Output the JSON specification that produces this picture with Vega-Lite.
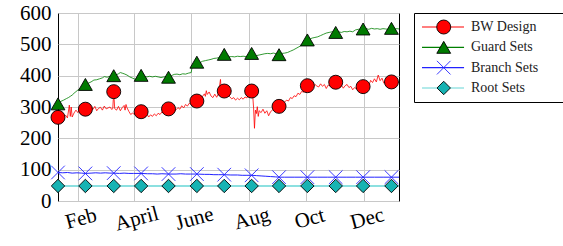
{
"$schema": "https://vega.github.io/schema/vega-lite/v6.json",
"background": "white",
"padding": {"left": 19, "top": 1, "right": 0, "bottom": 0},
"config": {"view": {"stroke": "black", "strokeWidth": 1}, "font": "Liberation Serif", "concat": {"spacing": 10}},
"datasets": {
"bwline": [{"day":0,"value":267},{"day":2,"value":262},{"day":4,"value":270},{"day":6,"value":266},{"day":8,"value":274},{"day":10,"value":265},{"day":12,"value":306},{"day":13,"value":270},{"day":14,"value":300},{"day":15,"value":268},{"day":17,"value":281},{"day":19,"value":290},{"day":21,"value":282},{"day":23,"value":296},{"day":25,"value":288},{"day":27,"value":295},{"day":29,"value":293},{"day":31,"value":300},{"day":33,"value":290},{"day":35,"value":298},{"day":37,"value":292},{"day":39,"value":302},{"day":41,"value":288},{"day":43,"value":296},{"day":45,"value":299},{"day":47,"value":290},{"day":49,"value":303},{"day":51,"value":294},{"day":53,"value":297},{"day":55,"value":300},{"day":57,"value":292},{"day":58,"value":296},{"day":59,"value":349},{"day":60,"value":295},{"day":62,"value":290},{"day":64,"value":302},{"day":66,"value":288},{"day":68,"value":298},{"day":70,"value":305},{"day":71,"value":290},{"day":72,"value":308},{"day":73,"value":298},{"day":75,"value":286},{"day":77,"value":276},{"day":79,"value":281},{"day":81,"value":275},{"day":83,"value":284},{"day":85,"value":280},{"day":88,"value":285},{"day":90,"value":280},{"day":92,"value":271},{"day":94,"value":278},{"day":96,"value":268},{"day":98,"value":275},{"day":100,"value":270},{"day":102,"value":278},{"day":104,"value":272},{"day":106,"value":280},{"day":108,"value":276},{"day":110,"value":284},{"day":112,"value":280},{"day":114,"value":289},{"day":117,"value":294},{"day":119,"value":288},{"day":121,"value":292},{"day":123,"value":285},{"day":125,"value":291},{"day":127,"value":298},{"day":129,"value":293},{"day":131,"value":304},{"day":133,"value":297},{"day":135,"value":308},{"day":137,"value":303},{"day":139,"value":312},{"day":141,"value":309},{"day":143,"value":316},{"day":145,"value":313},{"day":147,"value":319},{"day":149,"value":326},{"day":151,"value":321},{"day":153,"value":334},{"day":155,"value":342},{"day":156,"value":334},{"day":157,"value":352},{"day":158,"value":340},{"day":160,"value":348},{"day":162,"value":335},{"day":164,"value":330},{"day":166,"value":341},{"day":168,"value":331},{"day":170,"value":344},{"day":172,"value":388},{"day":173,"value":345},{"day":174,"value":352},{"day":176,"value":351},{"day":178,"value":347},{"day":180,"value":338},{"day":182,"value":332},{"day":184,"value":326},{"day":186,"value":330},{"day":188,"value":322},{"day":190,"value":328},{"day":192,"value":323},{"day":194,"value":330},{"day":196,"value":325},{"day":198,"value":332},{"day":200,"value":329},{"day":202,"value":336},{"day":204,"value":340},{"day":205,"value":351},{"day":206,"value":342},{"day":207,"value":300},{"day":208,"value":232},{"day":209,"value":290},{"day":210,"value":279},{"day":211,"value":301},{"day":212,"value":270},{"day":213,"value":288},{"day":215,"value":282},{"day":217,"value":293},{"day":219,"value":280},{"day":221,"value":288},{"day":223,"value":272},{"day":225,"value":285},{"day":227,"value":290},{"day":229,"value":296},{"day":231,"value":299},{"day":234,"value":302},{"day":236,"value":308},{"day":238,"value":313},{"day":240,"value":316},{"day":242,"value":322},{"day":244,"value":319},{"day":246,"value":330},{"day":248,"value":327},{"day":250,"value":336},{"day":252,"value":333},{"day":254,"value":344},{"day":256,"value":340},{"day":258,"value":350},{"day":260,"value":347},{"day":262,"value":356},{"day":264,"value":368},{"day":266,"value":362},{"day":268,"value":371},{"day":270,"value":364},{"day":272,"value":372},{"day":274,"value":367},{"day":276,"value":364},{"day":278,"value":374},{"day":280,"value":366},{"day":282,"value":372},{"day":284,"value":359},{"day":286,"value":370},{"day":288,"value":367},{"day":290,"value":374},{"day":292,"value":370},{"day":294,"value":379},{"day":296,"value":372},{"day":298,"value":365},{"day":300,"value":370},{"day":302,"value":360},{"day":304,"value":368},{"day":306,"value":372},{"day":308,"value":362},{"day":310,"value":366},{"day":312,"value":355},{"day":314,"value":362},{"day":316,"value":358},{"day":318,"value":366},{"day":320,"value":361},{"day":323,"value":365},{"day":325,"value":370},{"day":327,"value":375},{"day":329,"value":368},{"day":331,"value":385},{"day":333,"value":378},{"day":335,"value":390},{"day":337,"value":380},{"day":339,"value":402},{"day":341,"value":384},{"day":343,"value":392},{"day":345,"value":376},{"day":347,"value":383},{"day":349,"value":377},{"day":351,"value":384},{"day":353,"value":380},{"day":355,"value":376},{"day":357,"value":382},{"day":359,"value":377},{"day":361,"value":380}],
"guardline": [{"day":0,"value":310},{"day":3,"value":318},{"day":6,"value":322},{"day":9,"value":327},{"day":11,"value":330},{"day":13,"value":334},{"day":15,"value":338},{"day":17,"value":344},{"day":19,"value":349},{"day":21,"value":354},{"day":23,"value":358},{"day":26,"value":364},{"day":29,"value":372},{"day":32,"value":376},{"day":35,"value":380},{"day":38,"value":386},{"day":41,"value":387},{"day":44,"value":390},{"day":47,"value":393},{"day":49,"value":397},{"day":52,"value":395},{"day":55,"value":398},{"day":59,"value":400},{"day":62,"value":403},{"day":64,"value":406},{"day":66,"value":410},{"day":68,"value":408},{"day":70,"value":406},{"day":73,"value":402},{"day":76,"value":396},{"day":79,"value":392},{"day":82,"value":388},{"day":85,"value":395},{"day":88,"value":401},{"day":91,"value":398},{"day":94,"value":396},{"day":97,"value":398},{"day":100,"value":396},{"day":103,"value":398},{"day":106,"value":396},{"day":109,"value":394},{"day":112,"value":396},{"day":115,"value":397},{"day":117,"value":395},{"day":120,"value":400},{"day":123,"value":404},{"day":126,"value":405},{"day":129,"value":403},{"day":132,"value":406},{"day":135,"value":405},{"day":138,"value":408},{"day":141,"value":410},{"day":142,"value":428},{"day":144,"value":436},{"day":147,"value":443},{"day":150,"value":441},{"day":153,"value":446},{"day":156,"value":448},{"day":159,"value":450},{"day":162,"value":452},{"day":165,"value":455},{"day":168,"value":456},{"day":171,"value":458},{"day":174,"value":460},{"day":176,"value":466},{"day":178,"value":461},{"day":181,"value":460},{"day":184,"value":461},{"day":187,"value":460},{"day":190,"value":462},{"day":193,"value":461},{"day":196,"value":462},{"day":199,"value":461},{"day":202,"value":463},{"day":205,"value":469},{"day":207,"value":463},{"day":210,"value":464},{"day":213,"value":466},{"day":216,"value":468},{"day":219,"value":470},{"day":222,"value":471},{"day":225,"value":470},{"day":228,"value":472},{"day":231,"value":470},{"day":234,"value":467},{"day":237,"value":471},{"day":240,"value":472},{"day":243,"value":474},{"day":246,"value":478},{"day":249,"value":482},{"day":252,"value":487},{"day":255,"value":492},{"day":258,"value":497},{"day":261,"value":503},{"day":264,"value":514},{"day":266,"value":516},{"day":269,"value":520},{"day":272,"value":522},{"day":275,"value":524},{"day":278,"value":528},{"day":281,"value":532},{"day":284,"value":536},{"day":287,"value":538},{"day":290,"value":540},{"day":294,"value":538},{"day":297,"value":540},{"day":300,"value":538},{"day":303,"value":541},{"day":306,"value":540},{"day":309,"value":542},{"day":312,"value":540},{"day":315,"value":546},{"day":318,"value":548},{"day":321,"value":547},{"day":323,"value":549},{"day":326,"value":550},{"day":329,"value":548},{"day":332,"value":551},{"day":335,"value":549},{"day":338,"value":550},{"day":341,"value":548},{"day":344,"value":550},{"day":347,"value":549},{"day":350,"value":547},{"day":353,"value":551},{"day":356,"value":549},{"day":359,"value":550},{"day":361,"value":549}],
"branchline": [{"day":0,"value":91},{"day":5,"value":90},{"day":10,"value":91},{"day":15,"value":89},{"day":20,"value":90},{"day":25,"value":89},{"day":29,"value":88},{"day":35,"value":89},{"day":40,"value":90},{"day":45,"value":89},{"day":50,"value":90},{"day":55,"value":89},{"day":59,"value":89},{"day":65,"value":88},{"day":70,"value":89},{"day":75,"value":88},{"day":80,"value":88},{"day":88,"value":88},{"day":95,"value":87},{"day":100,"value":87},{"day":105,"value":86},{"day":110,"value":87},{"day":117,"value":86},{"day":125,"value":86},{"day":130,"value":87},{"day":135,"value":86},{"day":140,"value":86},{"day":147,"value":86},{"day":155,"value":85},{"day":160,"value":85},{"day":165,"value":84},{"day":170,"value":84},{"day":176,"value":84},{"day":183,"value":83},{"day":190,"value":83},{"day":195,"value":82},{"day":200,"value":82},{"day":205,"value":82},{"day":210,"value":81},{"day":215,"value":80},{"day":220,"value":79},{"day":225,"value":78},{"day":230,"value":77},{"day":234,"value":76},{"day":240,"value":76},{"day":250,"value":76},{"day":260,"value":76},{"day":264,"value":76},{"day":275,"value":76},{"day":285,"value":76},{"day":294,"value":76},{"day":305,"value":76},{"day":315,"value":76},{"day":323,"value":76},{"day":335,"value":76},{"day":345,"value":76},{"day":353,"value":76},{"day":361,"value":76}],
"rootline": [{"day":0,"value":48},{"day":59,"value":48},{"day":117,"value":48},{"day":176,"value":48},{"day":234,"value":48},{"day":294,"value":48},{"day":361,"value":48}],
"markers": [
{"series":"BW Design","day":0,"value":267},{"series":"BW Design","day":29,"value":293},{"series":"BW Design","day":59,"value":349},{"series":"BW Design","day":88,"value":285},{"series":"BW Design","day":117,"value":294},{"series":"BW Design","day":147,"value":319},{"series":"BW Design","day":176,"value":351},{"series":"BW Design","day":205,"value":351},{"series":"BW Design","day":234,"value":302},{"series":"BW Design","day":264,"value":368},{"series":"BW Design","day":294,"value":379},{"series":"BW Design","day":323,"value":365},{"series":"BW Design","day":353,"value":380},
{"series":"Guard Sets","day":0,"value":310},{"series":"Guard Sets","day":29,"value":372},{"series":"Guard Sets","day":59,"value":400},{"series":"Guard Sets","day":88,"value":401},{"series":"Guard Sets","day":117,"value":395},{"series":"Guard Sets","day":147,"value":443},{"series":"Guard Sets","day":176,"value":468},{"series":"Guard Sets","day":205,"value":471},{"series":"Guard Sets","day":234,"value":467},{"series":"Guard Sets","day":264,"value":514},{"series":"Guard Sets","day":294,"value":538},{"series":"Guard Sets","day":323,"value":549},{"series":"Guard Sets","day":353,"value":551},
{"series":"Branch Sets","day":0,"value":91},{"series":"Branch Sets","day":29,"value":88},{"series":"Branch Sets","day":59,"value":89},{"series":"Branch Sets","day":88,"value":88},{"series":"Branch Sets","day":117,"value":86},{"series":"Branch Sets","day":147,"value":86},{"series":"Branch Sets","day":176,"value":84},{"series":"Branch Sets","day":205,"value":82},{"series":"Branch Sets","day":234,"value":76},{"series":"Branch Sets","day":264,"value":76},{"series":"Branch Sets","day":294,"value":76},{"series":"Branch Sets","day":323,"value":76},{"series":"Branch Sets","day":353,"value":76},
{"series":"Root Sets","day":0,"value":48},{"series":"Root Sets","day":29,"value":48},{"series":"Root Sets","day":59,"value":48},{"series":"Root Sets","day":88,"value":48},{"series":"Root Sets","day":117,"value":48},{"series":"Root Sets","day":147,"value":48},{"series":"Root Sets","day":176,"value":48},{"series":"Root Sets","day":205,"value":48},{"series":"Root Sets","day":234,"value":48},{"series":"Root Sets","day":264,"value":48},{"series":"Root Sets","day":294,"value":48},{"series":"Root Sets","day":323,"value":48},{"series":"Root Sets","day":353,"value":48}],
"legendrows": [{"series":"BW Design"},{"series":"Guard Sets"},{"series":"Branch Sets"},{"series":"Root Sets"}]
},
"hconcat": [
{
"width": 341, "height": 188,
"encoding": {
"x": {"field": "day", "type": "quantitative", "scale": {"domain": [0, 361], "nice": false, "zero": false},
 "axis": {"values": [21, 80, 141, 202, 263, 324], "labelExpr": "datum.value==21?'Feb':datum.value==80?'April':datum.value==141?'June':datum.value==202?'Aug':datum.value==263?'Oct':'Dec'", "title": null, "grid": true, "gridColor": "#c8c8c8", "ticks": false, "tickSize": 0, "domain": false, "labelFont": "Liberation Serif", "labelFontSize": 21, "labelColor": "black", "labelAngle": -15, "labelAlign": "center", "labelBaseline": "top", "labelPadding": 7, "labelOverlap": false, "labelFlush": false}},
"y": {"field": "value", "type": "quantitative", "scale": {"domain": [0, 600], "nice": false},
 "axis": {"values": [0, 100, 200, 300, 400, 500, 600], "title": null, "grid": true, "gridColor": "#c8c8c8", "ticks": false, "tickSize": 0, "domain": false, "labelFont": "Liberation Serif", "labelFontSize": 21, "labelColor": "black", "labelPadding": 7, "labelOverlap": false, "labelFlush": false}}
},
"layer": [
{"data": {"name": "bwline"}, "mark": {"type": "line", "strokeWidth": 0.8}, "encoding": {"color": {"datum": "BW Design", "type": "nominal", "scale": {"domain": ["BW Design", "Guard Sets", "Branch Sets", "Root Sets"], "range": ["#ff0000", "#008000", "#2222ff", "#66d6d6"]}, "legend": null}}},
{"data": {"name": "guardline"}, "mark": {"type": "line", "strokeWidth": 0.8}, "encoding": {"color": {"datum": "Guard Sets", "type": "nominal", "legend": null}}},
{"data": {"name": "branchline"}, "mark": {"type": "line", "strokeWidth": 1}, "encoding": {"color": {"datum": "Branch Sets", "type": "nominal", "legend": null}}},
{"data": {"name": "rootline"}, "mark": {"type": "line", "strokeWidth": 1.5}, "encoding": {"color": {"datum": "Root Sets", "type": "nominal", "legend": null}}},
{"data": {"name": "markers"}, "mark": {"type": "point", "filled": true, "strokeWidth": 0.9, "opacity": 1},
 "encoding": {
 "shape": {"field": "series", "type": "nominal", "scale": {"domain": ["BW Design", "Guard Sets", "Branch Sets", "Root Sets"], "range": ["circle", "triangle-up", "M-1,-1L1,1M-1,1L1,-1", "diamond"]}, "legend": null},
 "fill": {"field": "series", "type": "nominal", "scale": {"domain": ["BW Design", "Guard Sets", "Branch Sets", "Root Sets"], "range": ["#ff0000", "#007a00", "transparent", "#17b3b3"]}, "legend": null},
 "stroke": {"field": "series", "type": "nominal", "scale": {"domain": ["BW Design", "Guard Sets", "Branch Sets", "Root Sets"], "range": ["#000000", "#000000", "#2222ff", "#000000"]}, "legend": null},
 "size": {"field": "series", "type": "nominal", "scale": {"domain": ["BW Design", "Guard Sets", "Branch Sets", "Root Sets"], "range": [196, 180, 100, 144]}, "legend": null}
 }}
]
},
{
"width": 154, "height": 89,
"data": {"name": "legendrows"},
"encoding": {"y": {"field": "series", "type": "nominal", "scale": {"type": "point", "domain": ["BW Design", "Guard Sets", "Branch Sets", "Root Sets"], "padding": 0.69}, "axis": null}},
"layer": [
{"mark": {"type": "rule", "strokeWidth": 1.2}, "encoding": {"x": {"datum": 0.052, "type": "quantitative", "scale": {"domain": [0, 1]}, "axis": null}, "x2": {"datum": 0.325}, "color": {"field": "series", "type": "nominal", "scale": {"domain": ["BW Design", "Guard Sets", "Branch Sets", "Root Sets"], "range": ["#ff5555", "#008000", "#2222ff", "#66d6d6"]}, "legend": null}}},
{"mark": {"type": "point", "filled": true, "strokeWidth": 0.9, "opacity": 1},
 "encoding": {
 "x": {"datum": 0.193, "type": "quantitative", "axis": null},
 "shape": {"field": "series", "type": "nominal", "scale": {"domain": ["BW Design", "Guard Sets", "Branch Sets", "Root Sets"], "range": ["circle", "triangle-up", "M-1,-1L1,1M-1,1L1,-1", "diamond"]}, "legend": null},
 "fill": {"field": "series", "type": "nominal", "scale": {"domain": ["BW Design", "Guard Sets", "Branch Sets", "Root Sets"], "range": ["#ff0000", "#007a00", "transparent", "#17b3b3"]}, "legend": null},
 "stroke": {"field": "series", "type": "nominal", "scale": {"domain": ["BW Design", "Guard Sets", "Branch Sets", "Root Sets"], "range": ["#000000", "#000000", "#2222ff", "#000000"]}, "legend": null},
 "size": {"field": "series", "type": "nominal", "scale": {"domain": ["BW Design", "Guard Sets", "Branch Sets", "Root Sets"], "range": [196, 180, 100, 144]}, "legend": null}
 }},
{"mark": {"type": "text", "align": "left", "baseline": "middle", "font": "Liberation Serif", "fontSize": 14, "color": "#222222"},
 "encoding": {"x": {"datum": 0.37, "type": "quantitative", "axis": null}, "text": {"field": "series", "type": "nominal"}}}
]
}
]
}
